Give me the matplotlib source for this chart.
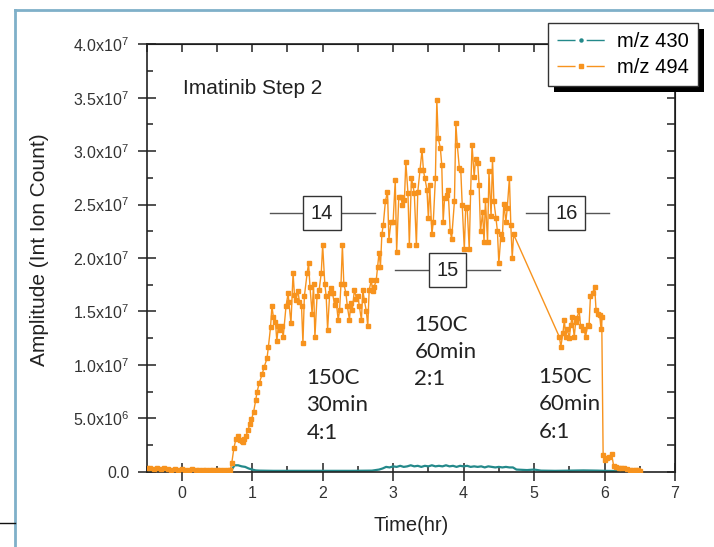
import matplotlib
matplotlib.use("Agg")
import matplotlib.pyplot as plt
from matplotlib.lines import Line2D
from matplotlib.patches import Rectangle
from matplotlib.ticker import MultipleLocator

plt.rcParams["font.family"] = ["Liberation Sans", "DejaVu Sans"]
plt.rcParams["mathtext.default"] = "regular"
plt.rcParams["lines.scale_dashes"] = False

# Amplitudes are stored in units of 1e7 ion counts
SCALE = 1e7

orange_time = [
    -0.50, -0.45, -0.40, -0.35, -0.30, -0.25, -0.20, -0.15, -0.10, -0.05,
    0.00, 0.05, 0.10, 0.15, 0.20, 0.25, 0.30, 0.35, 0.40, 0.45,
    0.50, 0.55, 0.60, 0.65, 0.69,
    0.71, 0.74, 0.77, 0.80, 0.83, 0.85, 0.87, 0.89, 0.91, 0.94,
    0.97, 0.99, 1.02, 1.05, 1.07, 1.10, 1.14, 1.17, 1.21, 1.23,
    1.26, 1.28, 1.30, 1.33, 1.35, 1.37, 1.40, 1.42, 1.44, 1.48,
    1.51, 1.52, 1.55, 1.58, 1.60, 1.62, 1.65, 1.67, 1.70, 1.72,
    1.74, 1.78, 1.80, 1.82, 1.85, 1.87, 1.89, 1.92, 1.95, 1.98,
    2.00, 2.03, 2.05, 2.07, 2.10, 2.12, 2.14, 2.17, 2.19, 2.22,
    2.24, 2.26, 2.28, 2.30, 2.33, 2.35, 2.38, 2.40, 2.42, 2.45,
    2.48, 2.50, 2.52, 2.55, 2.57, 2.59, 2.62, 2.64, 2.66, 2.69,
    2.71, 2.73, 2.76, 2.78, 2.80, 2.82, 2.84, 2.86, 2.89, 2.92,
    2.94, 2.97, 3.00, 3.03, 3.05, 3.08, 3.11, 3.13, 3.16, 3.18,
    3.21, 3.23, 3.26, 3.28, 3.30, 3.33, 3.35, 3.38, 3.41, 3.43,
    3.45, 3.48, 3.50, 3.52, 3.55, 3.57, 3.60, 3.62, 3.64, 3.67,
    3.69, 3.71, 3.73, 3.76, 3.78, 3.81, 3.83, 3.87, 3.89, 3.91,
    3.94, 3.96, 3.98, 4.01, 4.03, 4.05, 4.08, 4.10, 4.12, 4.15,
    4.17, 4.20, 4.22, 4.24, 4.27, 4.29, 4.31, 4.34, 4.36, 4.39,
    4.41, 4.43, 4.46, 4.48, 4.50, 4.53, 4.55, 4.57, 4.60, 4.62,
    4.65, 4.67, 4.69, 4.71,
    5.36, 5.38, 5.41, 5.43, 5.45, 5.47, 5.50, 5.52, 5.54, 5.57,
    5.59, 5.61, 5.64, 5.66, 5.69, 5.71, 5.73, 5.76, 5.78, 5.80,
    5.83, 5.86, 5.88, 5.91, 5.93, 5.95, 5.96, 5.98, 6.01, 6.03,
    6.07, 6.10, 6.13, 6.16, 6.20, 6.24, 6.28, 6.32, 6.36, 6.40,
    6.44, 6.48, 6.51,
]
orange_amp = [
    0.030, 0.030, 0.025, 0.030, 0.025, 0.030, 0.025, 0.020, 0.025, 0.020,
    0.025, 0.020, 0.020, 0.025, 0.020, 0.020, 0.015, 0.020, 0.015, 0.020,
    0.015, 0.015, 0.020, 0.015, 0.020,
    0.08, 0.22, 0.31, 0.33, 0.30, 0.29, 0.28, 0.31, 0.33, 0.39,
    0.45, 0.49, 0.56, 0.67, 0.75, 0.83, 0.91, 0.98, 1.06, 1.17,
    1.35, 1.55, 1.45, 1.40, 1.22, 1.36, 1.33, 1.36, 1.26, 1.55,
    1.67, 1.59, 1.39, 1.86, 1.65, 1.61, 1.69, 1.59, 1.55, 1.20,
    1.64, 1.86, 1.95, 1.73, 1.48, 1.76, 1.26, 1.64, 1.70, 1.86,
    2.12, 1.76, 1.64, 1.33, 1.67, 1.72, 1.67, 1.56, 1.61, 1.42,
    1.51, 1.76, 2.12, 1.76, 1.67, 1.55, 1.42, 1.58, 1.51, 1.70,
    1.62, 1.64, 1.55, 1.42, 1.70, 1.61, 1.50, 1.36, 1.70, 1.79,
    1.69, 1.73, 1.79, 1.92, 2.05, 1.92, 2.22, 2.31, 2.53, 2.62,
    2.17, 2.34, 2.34, 2.73, 2.06, 2.57, 2.57, 2.50, 2.54, 2.90,
    2.61, 2.12, 2.75, 2.68, 2.61, 2.12, 2.62, 2.82, 3.01, 2.82,
    2.75, 2.64, 2.37, 2.68, 2.22, 2.34, 2.75, 3.48, 3.12, 3.03,
    2.87, 2.34, 2.56, 2.59, 2.64, 2.25, 2.18, 2.53, 3.26, 3.06,
    2.84, 2.82, 2.50, 2.08, 2.47, 2.48, 2.08, 2.62, 3.06, 2.76,
    2.93, 2.89, 2.68, 2.25, 2.43, 2.15, 2.54, 2.15, 2.81, 2.39,
    2.93, 2.53, 2.37, 2.25, 1.95, 2.22, 2.18, 2.51, 2.34, 2.47,
    2.75, 2.31, 2.00, 2.22,
    1.26, 1.17, 1.30, 1.42, 1.26, 1.34, 1.25, 1.37, 1.45, 1.26,
    1.40, 1.44, 1.51, 1.36, 1.33, 1.34, 1.26, 1.37, 1.36, 1.64,
    1.67, 1.73, 1.51, 1.48, 1.47, 1.34, 1.45, 0.16, 0.11, 0.13,
    0.14, 0.17, 0.05, 0.04, 0.035, 0.030, 0.030, 0.025, 0.020, 0.020,
    0.015, 0.015, 0.010,
]

teal_time = [
    -0.50, 0.00, 0.50, 0.70, 0.72, 0.75, 0.80, 0.85, 0.90, 0.95,
    1.00, 1.05, 1.10, 1.30, 1.60, 2.00, 2.40, 2.70, 2.80, 2.85,
    2.90, 2.95, 3.00, 3.05, 3.10, 3.15, 3.20, 3.25, 3.30, 3.35,
    3.40, 3.45, 3.50, 3.55, 3.60, 3.65, 3.70, 3.75, 3.80, 3.85,
    3.90, 3.95, 4.00, 4.05, 4.10, 4.15, 4.20, 4.25, 4.30, 4.35,
    4.40, 4.45, 4.50, 4.55, 4.60, 4.65, 4.70, 4.75, 4.90, 5.00,
    5.10, 5.30, 5.50, 5.70, 5.90, 6.00, 6.20, 6.50,
]
teal_amp = [
    0.005, 0.005, 0.005, 0.006, 0.030, 0.060, 0.060, 0.050, 0.045, 0.030,
    0.020, 0.012, 0.010, 0.008, 0.008, 0.008, 0.008, 0.010, 0.020, 0.030,
    0.045, 0.040, 0.050, 0.045, 0.055, 0.045, 0.050, 0.060, 0.050, 0.055,
    0.045, 0.055, 0.050, 0.060, 0.050, 0.055, 0.050, 0.060, 0.050, 0.055,
    0.045, 0.055, 0.050, 0.055, 0.045, 0.050, 0.045, 0.050, 0.040, 0.050,
    0.045, 0.040, 0.045, 0.040, 0.045, 0.040, 0.040, 0.020, 0.015, 0.020,
    0.010, 0.008, 0.010, 0.012, 0.010, 0.008, 0.006, 0.005,
]

series_labels = ["m/z 430", "m/z 494"]
x_ticks = [0, 1, 2, 3, 4, 5, 6, 7]
y_ticks = [0.0, 0.5, 1.0, 1.5, 2.0, 2.5, 3.0, 3.5, 4.0]
y_tick_labels = ["0.0", "5.0x10$^{6}$", "1.0x10$^{7}$", "1.5x10$^{7}$",
                 "2.0x10$^{7}$", "2.5x10$^{7}$", "3.0x10$^{7}$",
                 "3.5x10$^{7}$", "4.0x10$^{7}$"]

# Step markers: (label, box centre time, amplitude, bar start, bar end)
step_labels = ["14", "15", "16"]
step_centre = [1.99, 3.77, 5.46]
step_level = [2.42, 1.886, 2.42]
step_start = [1.255, 3.03, 4.89]
step_end = [2.745, 4.52, 6.06]

cond_texts = ["150C\n30min\n4:1", "150C\n60min\n2:1", "150C\n60min\n6:1"]
cond_x = [1.77, 3.30, 5.06]
cond_y = [0.62, 1.12, 0.63]

ORANGE = "#f7931e"
TEAL = "#23898a"
W, H = 714, 547

fig = plt.figure(figsize=(W / 100, H / 100), dpi=100)
fig.patch.set_facecolor("white")
ax = fig.add_axes([146.5 / W, 1 - 471.7 / H, (675 - 146.5) / W, (471.7 - 44.3) / H])

ax.plot(teal_time, [v * SCALE for v in teal_amp], color=TEAL, lw=1.6, zorder=2)
ax.plot(orange_time, [v * SCALE for v in orange_amp], color=ORANGE, lw=1.0,
        marker="s", ms=3.0, mec=ORANGE, mfc=ORANGE, zorder=3)

ax.set_xlim(-0.5, 7)
ax.set_ylim(0, 4.0 * SCALE)
ax.set_xticks(x_ticks)
ax.set_xticklabels([str(t) for t in x_ticks])
ax.xaxis.set_minor_locator(MultipleLocator(0.5))
ax.set_yticks([v * SCALE for v in y_ticks])
ax.set_yticklabels(y_tick_labels)
ax.yaxis.set_minor_locator(MultipleLocator(0.25 * SCALE))

ax.tick_params(which="major", direction="inout", length=13, width=1.1,
               color="#222222", labelsize=11.5, labelcolor="#333333", pad=4)
ax.tick_params(axis="y", which="major", pad=6)
ax.tick_params(which="minor", direction="in", length=4.5, width=1.1, color="#222222")
for sp in ax.spines.values():
    sp.set_color("#222222")
    sp.set_linewidth(1.2)

top = ax.secondary_xaxis("top")
top.set_xticks(x_ticks)
top.xaxis.set_minor_locator(MultipleLocator(0.5))
top.tick_params(which="both", direction="in", length=5.5, width=1.1,
                color="#222222", labeltop=False)
right = ax.secondary_yaxis("right")
right.set_yticks([v * SCALE for v in y_ticks])
right.yaxis.set_minor_locator(MultipleLocator(0.25 * SCALE))
right.tick_params(which="both", direction="in", length=5.5, width=1.1,
                  color="#222222", labelright=False)

ax.set_xlabel("Time(hr)", fontsize=14.5, color="#222222")
ax.set_ylabel("Amplitude (Int Ion Count)", fontsize=15, color="#222222")
ax.xaxis.set_label_coords(0.5, -0.125)
ax.xaxis.label.set_va("center")
ax.yaxis.set_label_coords(-0.202, 0.52)
ax.yaxis.label.set_va("center")

ax.text(0.02, 3.59 * SCALE, "Imatinib Step 2", fontsize=15, color="#222222",
        ha="left", va="center")

for lab, cx, lv, x0, x1 in zip(step_labels, step_centre, step_level, step_start, step_end):
    ax.plot([x0, x1], [lv * SCALE, lv * SCALE], color="#555555", lw=1.0, zorder=4)
    ax.text(cx, lv * SCALE, lab, fontsize=14.5, color="#222222", ha="center", va="center",
            zorder=5, bbox=dict(boxstyle="square,pad=0.38", fc="white", ec="#333333", lw=1.0))

for txt, tx, ty in zip(cond_texts, cond_x, cond_y):
    ax.text(tx, ty * SCALE, txt, family=["Lato", "DejaVu Sans"], fontsize=16,
            color="#222222", ha="left", va="center", linespacing=1.45, zorder=5)

handles = [
    Line2D([], [], color=TEAL, lw=1.0, dashes=(13, 8), marker="o", ms=2.2,
           mfc=TEAL, mec=TEAL),
    Line2D([], [], color=ORANGE, lw=1.0, dashes=(13, 8), marker="s", ms=3.2,
           mfc=ORANGE, mec=ORANGE),
]
leg = fig.legend(handles, series_labels, loc="upper left",
                 bbox_to_anchor=(548 / W, 1 - 23 / H), borderaxespad=0,
                 fontsize=14.5, frameon=True, fancybox=False, framealpha=1,
                 edgecolor="#333333", handlelength=2.4, handletextpad=0.6,
                 labelspacing=0.35, borderpad=0.45, numpoints=1)
leg.get_frame().set_linewidth(1.0)
leg.set_zorder(10)

# Solid drop shadow behind the legend box
fig.canvas.draw()
bb = leg.get_window_extent()
off = 6
fig.add_artist(Rectangle(((bb.x0 + off) / W, (bb.y0 - off) / H), bb.width / W, bb.height / H,
                         transform=fig.transFigure, facecolor="black", edgecolor="none",
                         zorder=9))

# Slide frame lines around the chart
frame_col = "#7fb0c9"
fig.add_artist(Line2D([15 / W, 15 / W], [0, 1 - 10 / H], transform=fig.transFigure,
                      color=frame_col, lw=2.0))
fig.add_artist(Line2D([15 / W, 1], [1 - 10 / H, 1 - 10 / H], transform=fig.transFigure,
                      color=frame_col, lw=2.0))
fig.add_artist(Line2D([0, 15 / W], [1 - 523 / H, 1 - 523 / H], transform=fig.transFigure,
                      color="#111111", lw=1.0))

fig.savefig("out.png", dpi=100)
